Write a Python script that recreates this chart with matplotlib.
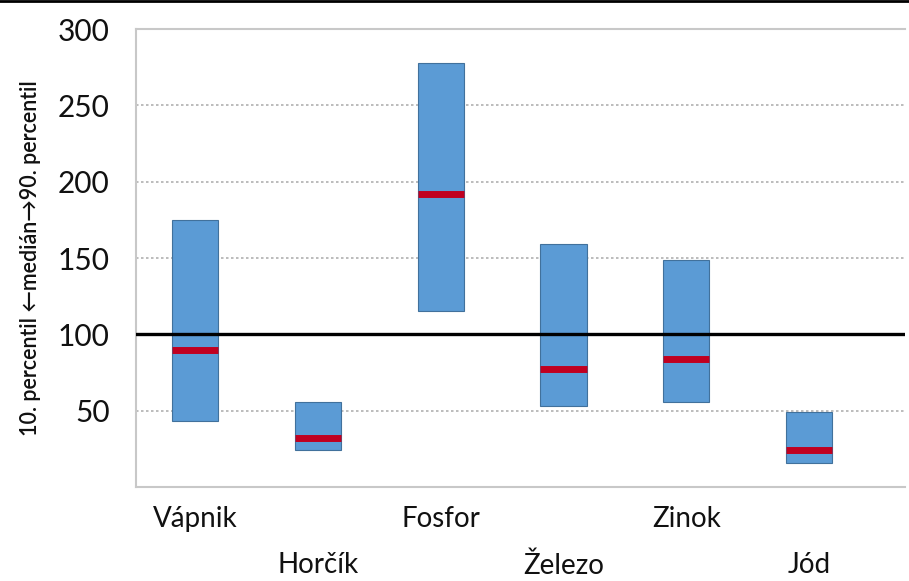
import matplotlib
matplotlib.use("Agg")
import matplotlib.pyplot as plt
from matplotlib.lines import Line2D

plt.rcParams['font.family'] = ['Lato', 'DejaVu Sans']

# data
prvky = ["Vápnik", "Horčík", "Fosfor", "Železo", "Zinok", "Jód"]
p10 = [43, 24, 115, 53, 56, 16]
p90 = [175, 56, 278, 159, 149, 49]
median = [90, 32, 192, 77, 84, 24]
y_ticks = [50, 100, 150, 200, 250, 300]
referencia = 100

fig = plt.figure(figsize=(9.09, 5.81), dpi=100)
ax = fig.add_axes([0.1496, 0.1618, 0.846, 0.788])

x = list(range(len(prvky)))
sirka = 0.375
vysky = [h - l for h, l in zip(p90, p10)]

ax.bar(x, vysky, bottom=p10, width=sirka, color="#5b9bd5",
       edgecolor="#41719c", linewidth=0.8, zorder=3)
ax.hlines(median, [i - sirka / 2 for i in x], [i + sirka / 2 for i in x],
          color="#c00020", linewidth=5, zorder=4)
ax.axhline(referencia, color="black", linewidth=2.4, zorder=5)

ax.set_ylim(0, 300)
ax.set_xlim(-0.48, 5.78)
ax.set_yticks(y_ticks)
ax.tick_params(axis='y', length=0, pad=19, labelsize=21.5, labelcolor="#111111")
for v in y_ticks:
    if v != referencia and v != 300:
        ax.axhline(v, color="#b0b0b0", linewidth=1.2, linestyle=(0, (1.5, 1.5)), zorder=1)

# staggered category labels
ax.set_xticks(x[::2], prvky[::2])
ax.set_xticks(x[1::2], prvky[1::2], minor=True)
ax.tick_params(axis='x', which='major', length=0, pad=14, labelsize=20, labelcolor="#111111")
ax.tick_params(axis='x', which='minor', length=0, pad=47, labelsize=20, labelcolor="#111111")

for s in ["left", "top", "bottom"]:
    ax.spines[s].set_color("#c8c8c8")
    ax.spines[s].set_linewidth(1.5)
ax.spines["right"].set_visible(False)

ax.set_ylabel("10. percentil ←medián→90. percentil", fontsize=15.5,
              fontweight="semibold", color="#111111", labelpad=12)

fig.add_artist(Line2D([0, 1], [0.998, 0.998], color="black", linewidth=2,
                      transform=fig.transFigure))

fig.savefig("out.png", dpi=100)
